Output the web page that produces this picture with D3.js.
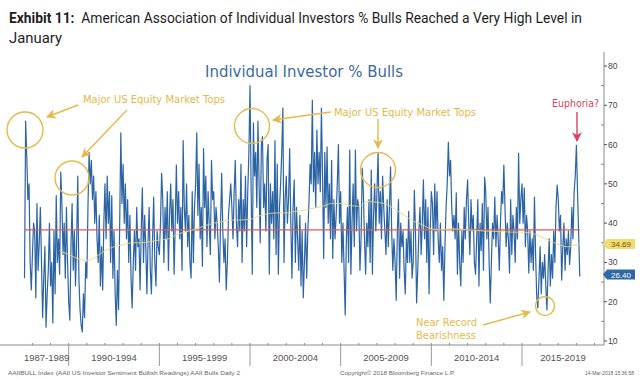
<!DOCTYPE html>
<html><head><meta charset="utf-8">
<script src="https://cdn.jsdelivr.net/npm/d3@7"></script>
<style>body{margin:0;background:#fff}svg{display:block}</style>
</head><body>
<svg id="c" width="640" height="379"></svg>
<script>
// ---------------- data ----------------
const periodLabels = ["1987-1989","1990-1994","1995-1999","2000-2004","2005-2009","2010-2014","2015-2019"];
const periodBounds = [1987, 1990, 1995, 2000, 2005, 2010, 2015, 2020];
const yTicks = [10, 20, 30, 40, 50, 60, 70, 80];
const bullsStart = 1987.5625;   // first reading (decimal year)
const bullsPerYear = 16;        // readings per year in this transcription
const bulls = [
  26,66,57,46,50,30,23,                                   // 1987
  32,40,38,21,45,28,35,44,30,16,26,34,13.5,22,28,40,       // 1988
  24,30,14.6,38,22,47,30,36,27,53,45,32,40,26,44,30,       // 1989
  20,15.3,34,45,28,38,24,35,52,26,18,14,12.3,22,16,30,     // 1990
  26,44,58,50,56,46,52,40,48,36,30,42,24,34,23,40,         // 1991
  50,36,52,40,48,30,47,26,38,22,14,28,18,40,63,45,         // 1992
  55,40,50,36,46,30,42,26,18.4,30,38,28,44,34,36,23,       // 1993
  38,49,30,42,34,22,35,44,28,22,36,46.6,30,24,38,34,       // 1994
  32,40,52.7,46,30,44,36,48,28,42,50,38,46,27,40,54.8,     // 1995
  40,48,36,44,28,61,44,38,50,34,42,30,26,48,30,44,         // 1996
  50,63,42,55,36,44,29,59,44,52,34,48,40,32,56,46,         // 1997
  48,36,44,40,34,25,40,52.7,38,30,36,23,30,42,46,50,       // 1998
  44,36,48,56,40,34,46,38,55,30,46,38,52,34,48,58,         // 1999
  75,48,27,65.5,52,58,44,66,50,35,60,62,44,50,38,56,       // 2000
  60,27,50,40,48,36,61,32,55,27,44,50,58,69.3,30,46,       // 2001
  52,40,46,59,40,26,44,51,30,44,36,28,42,24,38,21,         // 2002
  30,40,26,38,45,55,50,71.3,48,58,44,63.7,50,58,48,69.3,   // 2003
  52,31,58,44,59.4,40,50,36,56,31,46,36,42,50,60,40,       // 2004
  48,30,40,28,16.6,36,44,30,58.6,27,40,50,34,58.6,38,46,   // 2005
  44,28,36,54,48,36,27,40,34,46,30,53.5,27,42,50,38,       // 2006
  48,57.8,40,48,36,52,44,38,32,46,34,44,54.3,38,28,36,     // 2007
  30,20.4,38,46,26,40,34,38,28,22,36,30,43,30,38,26,       // 2008
  30,48.4,38,19.7,28,38,44,32,40,51,36,46,30,44,22,38,     // 2009
  48,45,32,50,38,48,36,30,40,28,34,20.4,34,44,50,60.6,     // 2010
  52,56,44,38,42,36,47.7,27,40,30,24,38,30,44,36,46,       // 2011
  51,40,32,46,38,42,30,27,36,46,24,40,33,45,28,51.7,       // 2012
  48,36,44,30,19.7,30,40,36,46.6,34,42,36,28,40,48,45,     // 2013
  54.8,44,34,40,36,27.3,46,32,42,38,30,44,36,57.8,40,46,   // 2014
  50,40,49,34,42,38,27.3,38,30,36,28,46.6,32,21.2,18.4,26, // 2015
  34,22,30,26,32,24,17.9,28,36,24,32,26,38,30,44,49.7,     // 2016
  46,38,42,25.5,34,40,28,36,32,38,29.5,34,44,36,48,52,     // 2017
  59.8,48,37,26.4                                          // 2018
];
const maStart = 1989.5, maStep = 0.5;   // long moving average (yellow)
const maValues = [33,32,31,30.5,31.4,33,34,34.5,35,35,35.3,35.7,36,37.2,37.8,38.5,39.3,40,40.4,40.8,
  40.8,41,41.8,42.4,42.6,42.6,43,43.3,43.8,44.3,45,45,44.5,44.3,45.5,45.3,44.8,43.5,42,40.5,
  39.6,38.5,38.3,38.5,38.5,38.3,38.1,38,37.9,37.8,37.7,37.7,37.5,36.6,35.6,34.6,34,34.5,34.69];
const historicalAverage = 38.3;
const lastBulls = 26.40, lastMA = 34.69;

// ---------------- drawing ----------------
const svg = d3.select("#c");
const x = d3.scaleLinear().domain([1990, 2015]).range([68.7, 522]);
const y = d3.scaleLinear().domain([10, 80]).range([341, 66]);
const axisX = 604, baseY = 345;
const endYear = bullsStart + (bulls.length - 1) / bullsPerYear;

const gold = "#e6b94a", blue = "#2c64a3";

// title
const t1 = svg.append("text").attr("x", 9).attr("y", 23)
  .attr("font-family", "Roboto, sans-serif").attr("font-size", 14.5).attr("fill", "#1e1e1e")
  .attr("textLength", 573).attr("lengthAdjust", "spacingAndGlyphs");
t1.append("tspan").attr("font-weight", "bold").text("Exhibit 11:");
t1.append("tspan").text("\u00a0 American Association of Individual Investors % Bulls Reached a Very High Level in");
svg.append("text").attr("x", 9).attr("y", 43)
  .attr("font-family", "Roboto, sans-serif").attr("font-size", 14.5).attr("fill", "#1e1e1e")
  .attr("textLength", 53).attr("lengthAdjust", "spacingAndGlyphs").text("January");

// chart title
svg.append("text").attr("x", 205).attr("y", 77)
  .attr("font-family", "'DejaVu Sans', sans-serif").attr("font-size", 16.5).attr("fill", "#3b6a9e")
  .attr("textLength", 198).attr("lengthAdjust", "spacingAndGlyphs").text("Individual Investor % Bulls");

// right axis
svg.append("line").attr("x1", axisX).attr("x2", axisX).attr("y1", 52).attr("y2", baseY)
  .attr("stroke", "#8a8a8a").attr("stroke-width", 1);
const minor = d3.range(15, 85, 10);
svg.selectAll(".mn").data(minor).join("line")
  .attr("x1", axisX - 3).attr("x2", axisX).attr("y1", d => y(d)).attr("y2", d => y(d))
  .attr("stroke", "#8a8a8a");
svg.selectAll(".mj").data(yTicks).join("line")
  .attr("x1", axisX).attr("x2", axisX + 3).attr("y1", d => y(d)).attr("y2", d => y(d))
  .attr("stroke", "#555");
svg.selectAll(".yl").data(yTicks).join("text")
  .attr("x", axisX + 4).attr("y", d => y(d) + 3)
  .attr("font-family", "'Liberation Sans', Arial, sans-serif").attr("font-size", 8.5).attr("fill", "#444")
  .text(d => d);

// bottom axis
svg.append("line").attr("x1", 0).attr("x2", axisX).attr("y1", baseY).attr("y2", baseY)
  .attr("stroke", "#8a8a8a");
const yearTicks = d3.range(1988, 2021);
svg.selectAll(".yt").data(yearTicks).join("line")
  .attr("x1", d => x(d)).attr("x2", d => x(d)).attr("y1", baseY - 2).attr("y2", baseY)
  .attr("stroke", "#8a8a8a");
svg.selectAll(".sep").data(periodBounds.slice(1, -1)).join("line")
  .attr("x1", d => x(d)).attr("x2", d => x(d)).attr("y1", baseY).attr("y2", 366)
  .attr("stroke", "#9a9a9a");
svg.selectAll(".pl").data(periodLabels).join("text")
  .attr("x", (d, i) => (Math.max(x(periodBounds[i]), x(bullsStart)) + Math.min(x(periodBounds[i + 1]), axisX)) / 2)
  .attr("y", 361).attr("text-anchor", "middle")
  .attr("font-family", "'Liberation Sans', Arial, sans-serif").attr("font-size", 9.5).attr("fill", "#555")
  .text(d => d);

// series
const pts = bulls.map((v, i) => [bullsStart + i / bullsPerYear, v]);
svg.append("path").datum(pts)
  .attr("d", d3.line().x(d => x(d[0])).y(d => y(d[1])))
  .attr("fill", "none").attr("stroke", blue).attr("stroke-width", 1.2).attr("stroke-linejoin", "round");

// historical average
svg.append("line").attr("x1", x(bullsStart)).attr("x2", x(endYear))
  .attr("y1", y(historicalAverage)).attr("y2", y(historicalAverage))
  .attr("stroke", "#e05a5a").attr("stroke-width", 1.3);

// moving average
const maPts = maValues.map((v, i) => [Math.min(maStart + i * maStep, endYear), v]);
svg.append("path").datum(maPts)
  .attr("d", d3.line().curve(d3.curveMonotoneX).x(d => x(d[0])).y(d => y(d[1])))
  .attr("fill", "none").attr("stroke", "#e8d77a").attr("stroke-width", 1).attr("opacity", 0.85);

// badges
function badge(v, cy, fill, tc) {
  const g = svg.append("g");
  g.append("path").attr("d", `M${axisX - 1},${cy} L${axisX + 3},${cy - 5} L${axisX + 31},${cy - 5} L${axisX + 31},${cy + 5} L${axisX + 3},${cy + 5} Z`)
    .attr("fill", fill);
  g.append("text").attr("x", axisX + 17).attr("y", cy + 3).attr("text-anchor", "middle")
    .attr("font-family", "'Liberation Sans', Arial, sans-serif").attr("font-size", 8).attr("fill", tc)
    .text(v.toFixed(2));
}
badge(lastMA, y(lastMA), "#f1dc6e", "#6b5a12");
badge(lastBulls, y(lastBulls) - 2, "#2f68a6", "#ffffff");

// annotations
const defs = svg.append("defs");
function marker(id, col) {
  defs.append("marker").attr("id", id).attr("viewBox", "0 0 10 10").attr("refX", 9).attr("refY", 5)
    .attr("markerWidth", 7).attr("markerHeight", 7).attr("orient", "auto-start-reverse")
    .append("path").attr("d", "M0,0 L10,5 L0,10 L3,5 Z").attr("fill", col);
}
marker("ag", gold); marker("ar", "#d9435a");
function arrow(x1, y1, x2, y2, col, m) {
  svg.append("line").attr("x1", x1).attr("y1", y1).attr("x2", x2).attr("y2", y2)
    .attr("stroke", col).attr("stroke-width", 1.4).attr("marker-end", `url(#${m})`);
}
function circ(cx, cy, r) {
  svg.append("circle").attr("cx", cx).attr("cy", cy).attr("r", r)
    .attr("fill", "none").attr("stroke", gold).attr("stroke-width", 1.4);
}
function label(tx, ty, str, col, w) {
  svg.append("text").attr("x", tx).attr("y", ty).attr("font-family", "'DejaVu Sans', sans-serif")
    .attr("font-size", 11).attr("fill", col).attr("textLength", w).attr("lengthAdjust", "spacingAndGlyphs").text(str);
}
label(83, 103, "Major US Equity Market Tops", gold, 142);
label(334, 116, "Major US Equity Market Tops", gold, 142);
arrow(78, 105, 47, 117, gold, "ag");
arrow(127, 110, 82, 157, gold, "ag");
arrow(331, 112, 273, 120, gold, "ag");
arrow(378, 119, 378, 148, gold, "ag");
circ(25, 130, 18); circ(72, 178, 17); circ(252, 126, 17.5); circ(378, 170, 17.5); circ(545, 306, 9.5);
label(552, 107, "Euphoria?", "#d9435a", 47);
arrow(577, 112, 577, 141, "#d9435a", "ar");
label(416, 326, "Near Record", gold, 61);
label(416, 339, "Bearishness", gold, 60);
arrow(483, 325, 530, 312, gold, "ag");

// footer
function foot(tx, str, w) {
  svg.append("text").attr("x", tx).attr("y", 375).attr("font-family", "'Liberation Sans', Arial, sans-serif")
    .attr("font-size", 5.5).attr("fill", "#666").attr("textLength", w).attr("lengthAdjust", "spacingAndGlyphs").text(str);
}
foot(8, "AAIIBULL Index (AAII US Investor Sentiment Bullish Readings) AAII Bulls  Daily 2", 232);
foot(340, "Copyright\u00a9 2018 Bloomberg Finance L.P.", 115);
foot(585, "14-Mar-2018 15:36:58", 49);
</script>
</body></html>
